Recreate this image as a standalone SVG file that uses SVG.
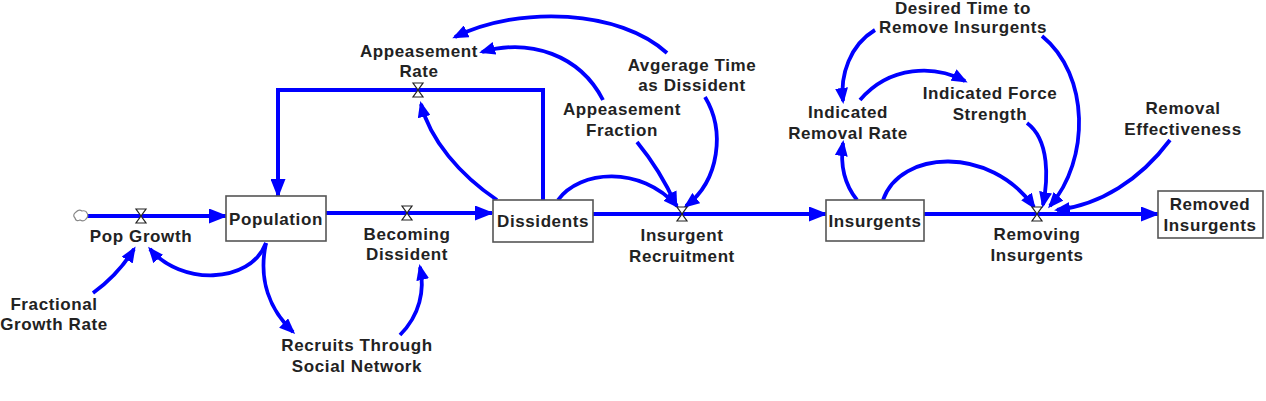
<svg xmlns="http://www.w3.org/2000/svg" width="1266" height="401" viewBox="0 0 1266 401">
<defs>
<style>
text{font-family:"Liberation Sans",Arial,sans-serif;font-weight:bold;font-size:17px;fill:#222;text-anchor:middle;letter-spacing:0.6px}
.stock{fill:#fff;stroke:#555;stroke-width:1.6}
.flow{fill:none;stroke:#0000ff;stroke-width:4}
.link{fill:none;stroke:#0000ff;stroke-width:3.8}
.valve{fill:#fff;stroke:#222;stroke-width:1.2}
</style>
<marker id="ah" markerUnits="userSpaceOnUse" markerWidth="17" markerHeight="13" refX="13" refY="6.5" orient="auto">
<path d="M0,0 L16,6.5 L0,13 z" fill="#0000ff"/>
</marker>
<marker id="fh" markerUnits="userSpaceOnUse" markerWidth="19" markerHeight="15" refX="17" refY="7.5" orient="auto">
<path d="M0,0 L19,7.5 L0,15 z" fill="#0000ff"/>
</marker>
<path id="valve" d="M-5,-7 L5,-7 L-5,7 L5,7 z"/>
</defs>
<rect width="1266" height="401" fill="#fff"/>
<g id="connectors">
<path class="flow" d="M87,216 L226,216" marker-end="url(#fh)"/>
<path class="flow" d="M326,213 L492,213" marker-end="url(#fh)"/>
<path class="flow" d="M593,214 L826,214" marker-end="url(#fh)"/>
<path class="flow" d="M924,214 L1158,214" marker-end="url(#fh)"/>
<path class="flow" d="M543,200 L543,90 L278,90 L278,196" marker-end="url(#fh)"/>
<path class="link" d="M93,293 Q118,275 134,249" marker-end="url(#ah)"/>
<path class="link" d="M266,243 C250,285 180,285 150,249" marker-end="url(#ah)"/>
<path class="link" d="M266,243 C258,280 270,310 293,332" marker-end="url(#ah)"/>
<path class="link" d="M400,335 C420,315 425,290 420,267" marker-end="url(#ah)"/>
<path class="link" d="M497,200 C460,175 430,140 421,104" marker-end="url(#ah)"/>
<path class="link" d="M603,100 C580,55 530,38 482,52" marker-end="url(#ah)"/>
<path class="link" d="M667,53 C620,10 520,5 455,37" marker-end="url(#ah)"/>
<path class="link" d="M558,200 C580,170 640,165 677,206" marker-end="url(#ah)"/>
<path class="link" d="M637,142 Q660,170 676,205" marker-end="url(#ah)"/>
<path class="link" d="M705,97 C725,130 720,180 686,206" marker-end="url(#ah)"/>
<path class="link" d="M857,200 C845,185 840,165 843,143" marker-end="url(#ah)"/>
<path class="link" d="M875,30 C850,45 840,75 843,101" marker-end="url(#ah)"/>
<path class="link" d="M860,100 C890,65 935,65 965,81" marker-end="url(#ah)"/>
<path class="link" d="M883,200 C900,150 990,145 1034,207" marker-end="url(#ah)"/>
<path class="link" d="M1027,123 C1050,140 1048,180 1043,205" marker-end="url(#ah)"/>
<path class="link" d="M1042,36 C1090,75 1090,160 1050,206" marker-end="url(#ah)"/>
<path class="link" d="M1170,140 C1140,180 1100,205 1057,210" marker-end="url(#ah)"/>
</g>
<g id="source-cloud">
<path d="M76,212 Q79,209 82,211 Q86,210 87,213 Q89,216 86,219 Q84,222 80,220 Q76,222 75,218 Q72,215 76,212 z" fill="#fff" stroke="#888" stroke-width="1.2"/>
</g>
<g id="population"><rect class="stock" x="226" y="196" width="100" height="45"/><text x="276" y="225">Population</text></g>
<g id="dissidents"><rect class="stock" x="493" y="200" width="100" height="42"/><text x="543" y="227">Dissidents</text></g>
<g id="insurgents"><rect class="stock" x="826" y="200" width="98" height="41"/><text x="875" y="227">Insurgents</text></g>
<g id="removed-insurgents"><rect class="stock" x="1158" y="191" width="105" height="47"/><text x="1210" y="210">Removed</text><text x="1210" y="231">Insurgents</text></g>
<g id="pop-growth"><use href="#valve" class="valve" x="141" y="216"/><text x="141" y="242">Pop Growth</text></g>
<g id="becoming-dissident"><use href="#valve" class="valve" x="407" y="213"/><text x="407" y="240">Becoming</text><text x="407" y="260">Dissident</text></g>
<g id="appeasement-rate"><use href="#valve" class="valve" x="418" y="90"/><text x="419" y="57">Appeasement</text><text x="419" y="77">Rate</text></g>
<g id="insurgent-recruitment"><use href="#valve" class="valve" x="682" y="214"/><text x="682" y="241">Insurgent</text><text x="682" y="262">Recruitment</text></g>
<g id="removing-insurgents"><use href="#valve" class="valve" x="1037" y="214"/><text x="1037" y="240">Removing</text><text x="1037" y="261">Insurgents</text></g>
<g id="fractional-growth-rate"><text x="54" y="310">Fractional</text><text x="54" y="330">Growth Rate</text></g>
<g id="recruits-through-social-network"><text x="357" y="351">Recruits Through</text><text x="357" y="372">Social Network</text></g>
<g id="appeasement-fraction"><text x="622" y="115">Appeasement</text><text x="622" y="136">Fraction</text></g>
<g id="average-time-as-dissident"><text x="692" y="71">Avgerage Time</text><text x="692" y="91">as Dissident</text></g>
<g id="desired-time"><text x="963" y="14">Desired Time to</text><text x="963" y="33">Remove Insurgents</text></g>
<g id="indicated-removal-rate"><text x="848" y="118">Indicated</text><text x="848" y="139">Removal Rate</text></g>
<g id="indicated-force-strength"><text x="990" y="99">Indicated Force</text><text x="990" y="120">Strength</text></g>
<g id="removal-effectiveness"><text x="1183" y="114">Removal</text><text x="1183" y="135">Effectiveness</text></g>
</svg>
